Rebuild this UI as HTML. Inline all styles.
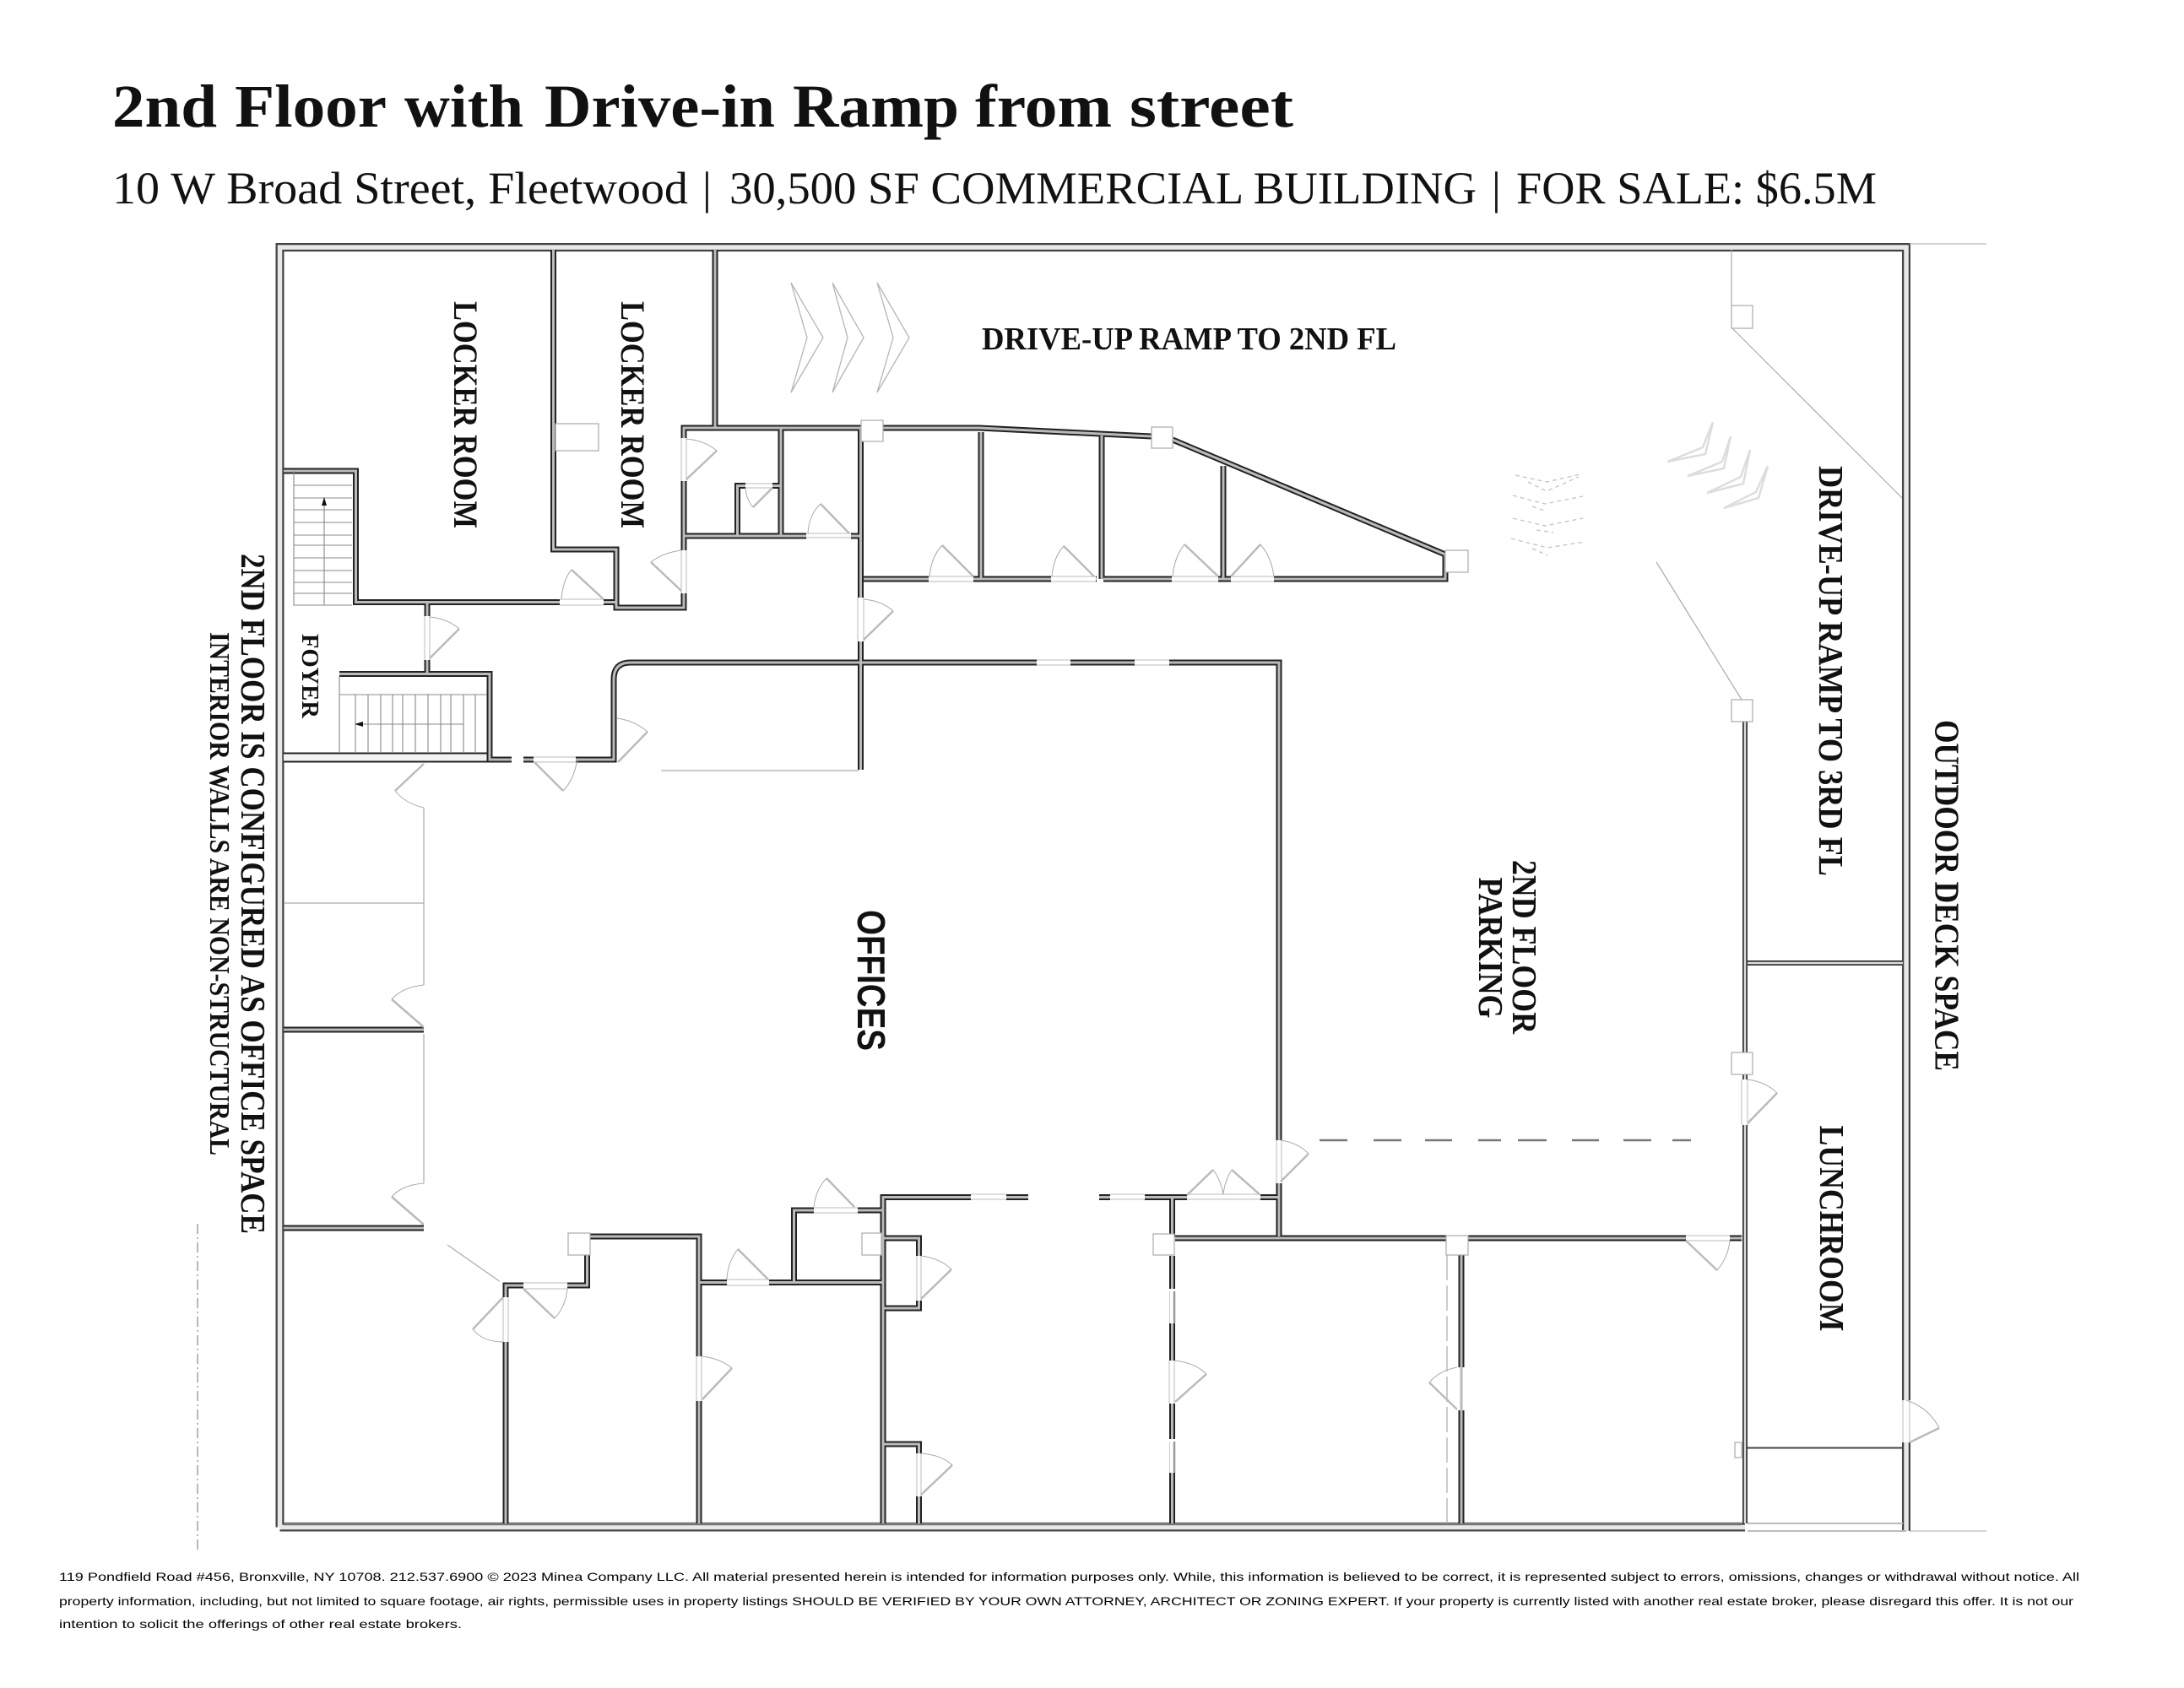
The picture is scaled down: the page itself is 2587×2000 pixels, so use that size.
<!DOCTYPE html>
<html><head><meta charset="utf-8"><style>
html,body{margin:0;padding:0;background:#fff}
svg{display:block}
text{font-family:"Liberation Serif",serif;fill:#111}
.b{font-weight:bold}
.f{font-family:"Liberation Sans",sans-serif;font-size:14px;fill:#000}
.leaf{fill:none;stroke:#bbb;stroke-width:2.5}
.arc{fill:none;stroke:#aaa;stroke-width:1}
.thin{fill:none;stroke:#aaa;stroke-width:1.2}
.col{fill:#fff;stroke:#aaa;stroke-width:1.2}
</style></head><body>
<svg xmlns="http://www.w3.org/2000/svg" width="2587" height="2000" viewBox="0 0 2587 2000">
<rect width="2587" height="2000" fill="#fff"/>
<defs>
<g id="outer" fill="none">
<path d="M331.5 1809.5V293H2258V1659M2258 1709V1814"/>
<path d="M331.5 1809.5H2067"/>
</g>
<g id="foyerwall" fill="none"><path d="M336 897.5H577"/></g>
<g id="walls" fill="none" stroke-linejoin="miter">
<path d="M336 558H421.5V713.5H663M715 713.5H730"/>
<path d="M655.5 296V651H730V720H810V703"/>
<path d="M847 296V507"/>
<path d="M810 519V507H1020M810 570V652"/>
<path d="M810 635H955M1008 635H1019"/>
<path d="M925 507V635M873.5 635V575.5H883M915 575.5H925"/>
<path d="M1019.5 507V708M1019.5 760V912"/>
<path d="M1023 686H1100M1153 686H1245M1298 686H1299M1307 686H1388M1443 686H1458M1509 686H1712V657"/>
<path d="M1162 512V686M1305 516V686M1449 552V686"/>
<path d="M1046 507H1160L1364 517"/>
<path d="M1389 521L1712 657"/>
<path d="M506 713V730M506 782V798"/>
<path d="M402 798.5H580V900H606M620 900H632M682 900H727V805Q727 785 747 785H1228M1268 785H1344M1385 785H1515V1351M1515 1402V1465"/>
<path d="M336 1220H502M336 1455H502"/>
<path d="M1493 1418.5H1515M1356 1418.5H1406M1302 1418.5H1315M1192 1418.5H1218M1150 1418.5H1046V1805"/>
<path d="M1388.5 1418V1465M1388.5 1488V1527M1388.5 1568V1612M1388.5 1663V1705M1388.5 1745V1805"/>
<path d="M1392 1467H1713M1738 1467H1997M2049 1467H2063"/>
<path d="M1731 1486V1620M1731 1671V1805"/>
<path d="M599 1805V1590M599 1537V1523H620M672 1523H695.5V1487M699 1465H828V1607M828 1660V1805"/>
<path d="M828 1519.5H861M911 1519.5H1046M940.5 1519V1434H964M1016 1434H1046"/>
<path d="M1046 1467H1088.5V1488M1088.5 1541V1550H1046"/>
<path d="M1046 1711H1088.5V1722M1088.5 1773V1805"/>
</g>
<g id="thinwalls" fill="none">
<path d="M2067 855V1247M2067 1273V1279M2067 1333V1805"/>
<path d="M2070 1141H2254"/>
</g>
</defs>

<!-- Title -->
<text class="b" x="133" y="150" font-size="72" textLength="124" lengthAdjust="spacingAndGlyphs">2nd</text>
<text class="b" x="278" y="150" font-size="72" textLength="180" lengthAdjust="spacingAndGlyphs">Floor</text>
<text class="b" x="479" y="150" font-size="72" textLength="141" lengthAdjust="spacingAndGlyphs">with</text>
<text class="b" x="645" y="150" font-size="72" textLength="273" lengthAdjust="spacingAndGlyphs">Drive-in</text>
<text class="b" x="939" y="150" font-size="72" textLength="197" lengthAdjust="spacingAndGlyphs">Ramp</text>
<text class="b" x="1155" y="150" font-size="72" textLength="162" lengthAdjust="spacingAndGlyphs">from</text>
<text class="b" x="1338" y="150" font-size="72" textLength="194" lengthAdjust="spacingAndGlyphs">street</text>
<text x="133" y="241" font-size="54" textLength="682" lengthAdjust="spacingAndGlyphs">10 W Broad Street, Fleetwood</text>
<text x="832" y="241" font-size="54">|</text>
<text x="864" y="241" font-size="54" textLength="885" lengthAdjust="spacingAndGlyphs">30,500 SF COMMERCIAL BUILDING</text>
<text x="1767" y="241" font-size="54">|</text>
<text x="1796" y="241" font-size="54" textLength="427" lengthAdjust="spacingAndGlyphs">FOR SALE: $6.5M</text>

<!-- walls -->
<use href="#outer" stroke="#444" stroke-width="10"/>
<use href="#outer" stroke="#e8e8e8" stroke-width="5.5"/>
<path d="M336 1805.5H2063" stroke="#777" stroke-width="3.5" fill="none"/>
<use href="#foyerwall" stroke="#222" stroke-width="12"/>
<use href="#foyerwall" stroke="#f2f2f2" stroke-width="8"/>
<use href="#walls" stroke="#222" stroke-width="7"/>
<use href="#walls" stroke="#bbb" stroke-width="3"/>
<use href="#thinwalls" stroke="#333" stroke-width="6"/>
<use href="#thinwalls" stroke="#ddd" stroke-width="2.5"/>

<!-- bottom right light wall + extensions -->
<path d="M2070 1805H2254M2070 1814H2258" stroke="#bbb" stroke-width="2" fill="none"/>
<path d="M2262 289H2353M2262 1814H2353" stroke="#bbb" stroke-width="1.2" fill="none"/>
<path d="M2070 1715.5H2254" stroke="#444" stroke-width="2"/>
<!-- light window sections in wall 1388 -->
<path d="M1391 1530V1568M1391 1708V1745" stroke="#999" stroke-width="2.5" fill="none"/>
<path d="M1385.5 1530V1568M1385.5 1708V1745" stroke="#ccc" stroke-width="1" fill="none"/>
<path d="M1731 1620V1671" stroke="#bbb" stroke-width="3" fill="none"/>

<!-- thin lines -->
<path class="thin" d="M2051 296V362M2052 389L2253 590M1962 666L2063 829M530 1475L591.5 1518M783 913H1017M502 957V1167M336 1070H502M502 1225V1402"/>
<path d="M1714 1487V1805" stroke="#aaa" stroke-width="1.2" stroke-dasharray="30 6" fill="none"/>
<path d="M234 1450V1839" stroke="#888" stroke-width="1.2" stroke-dasharray="12 4 2 4" fill="none"/>

<!-- gap lines -->
<path fill="none" stroke="#bbb" stroke-width="1" d="M503 730V782M509 730V782M663 710H715M663 717H715M807 652V703M813 652V703M807 519V570M813 519V570M883 573H915M883 578H915M955 632H1008M955 637H1008M1016 708V760M1023 708V760M1100 683H1153M1100 689H1153M1245 683H1298M1245 689H1298M1388 683H1443M1388 689H1443M1458 683H1509M1458 689H1509M1406 1415H1493M1406 1421H1493M1150 1415H1192M1150 1421H1192M1315 1415H1356M1315 1421H1356M1512 1351V1402M1518 1351V1402M2063 1279V1333M2070 1279V1333M2254 1659V1709M2262 1659V1709M1997 1464H2049M1997 1470H2049M1385 1612V1663M1391 1612V1663M596 1537V1590M602 1537V1590M620 1520H672M620 1527H672M825 1607V1660M831 1607V1660M861 1516H911M861 1523H911M964 1431H1016M964 1437H1016M1086 1488V1541M1091 1488V1541M1086 1722V1773M1091 1722V1773M632 897H682M632 903H682M1228 782H1268M1228 788H1268M1344 782H1385M1344 788H1385"/>

<!-- columns -->
<rect class="col" x="658" y="502" width="51" height="32"/>
<rect class="col" x="1020" y="498" width="26" height="25"/>
<rect class="col" x="1364" y="506" width="25" height="25"/>
<rect class="col" x="1712" y="652" width="27" height="26"/>
<rect class="col" x="2051" y="362" width="25" height="27"/>
<rect class="col" x="2051" y="829" width="25" height="26"/>
<rect class="col" x="2051" y="1247" width="25" height="26"/>
<rect class="col" x="1366" y="1462" width="25" height="25"/>
<rect class="col" x="1713" y="1464" width="26" height="23"/>
<rect class="col" x="673" y="1461" width="26" height="26"/>
<rect class="col" x="1021" y="1461" width="23" height="26"/>
<rect class="col" x="2055" y="1709" width="8" height="18"/>

<!-- door leaves -->
<path class="leaf" d="M509 780L544 745M715 710L677 675M807 700L771 666M813 568L849 534M915 578L892 601M1006 632L972 597M1023 758L1058 724M1153 683L1116 646M1296 683L1260 647M1443 683L1403 645M1458 683L1493 645M1517 1400L1550 1367M1406 1416L1437 1386M1493 1416L1459 1386M1997 1470L2034 1505M2262 1709L2297 1692M2070 1331L2105 1295M1726 1670L1693 1638M1392 1661L1429 1628M596 1537L560 1575M620 1527L657 1562M832 1658L867 1621M1012 1430L979 1396M910 1516L874 1480M1091 1539L1127 1504M1091 1771L1128 1736M732 903L767 867M633 903L667 937M502 905L468 937M502 1217L464 1184M502 1451L464 1418"/>
<!-- door arcs -->
<path class="arc" d="M544 745Q530 733 509 731M677 675Q667 686 665 710M771 666Q785 655 807 652M849 534Q835 522 813 520M892 601Q884 592 883 578M972 597Q958 610 957 632M1058 724Q1045 712 1023 710M1116 646Q1103 660 1101 683M1260 647Q1248 660 1246 683M1403 645Q1391 660 1389 683M1493 645Q1506 660 1509 683M1550 1367Q1538 1354 1517 1351M1437 1386Q1446 1398 1449 1415M1459 1386Q1451 1398 1449 1415M2034 1505Q2047 1490 2049 1470M2297 1692Q2285 1668 2258 1659M2105 1295Q2092 1282 2070 1279M1693 1638Q1705 1624 1726 1620M1429 1628Q1416 1615 1392 1612M560 1575Q572 1590 596 1590M657 1562Q670 1548 672 1527M867 1621Q854 1610 832 1607M979 1396Q966 1410 964 1430M874 1480Q862 1495 861 1516M1127 1504Q1114 1491 1091 1488M1128 1736Q1116 1724 1091 1722M767 867Q752 854 731 851M667 937Q680 924 684 899M468 937Q480 952 502 957M464 1184Q476 1170 502 1167M464 1418Q476 1404 502 1402"/>

<!-- stair 1 -->
<path fill="none" stroke="#888" stroke-width="1.1" d="M348 558V717H417M348 575H417M348 590H417M348 604H417M348 619H417M348 634H417M348 646H417M348 661H417M348 676H417M348 690H417M348 703H417M384 595V717"/>
<path d="M384 589L381 599H387Z" fill="#111"/>
<!-- stair 2 -->
<path fill="none" stroke="#888" stroke-width="1.1" d="M402 802V892M402 823H577M421 823V892M436 823V892M451 823V892M465 823V892M477 823V892M492 823V892M507 823V892M522 823V892M534 823V892M549 823V892M563 823V892M425 858H549"/>
<path d="M420 858L430 855V861Z" fill="#111"/>

<!-- dashed parking line -->
<path fill="none" stroke="#777" stroke-width="2.5" d="M1563 1351H1596M1627 1351H1660M1688 1351H1720M1751 1351H1778M1798 1351H1832M1862 1351H1894M1923 1351H1956M1981 1351H2003"/>

<!-- chevrons top -->
<path fill="none" stroke="#b5b5b5" stroke-width="1.3" d="M937 335L956 400L937 465L975 400ZM986 335L1004 400L986 465L1023 400ZM1039 335L1058 400L1039 465L1077 400Z"/>
<!-- dotted chevrons -->
<path fill="none" stroke="#c4c4c4" stroke-width="1.3" stroke-dasharray="5 4" d="M1795 563L1832 571L1872 562M1810 571L1832 582L1870 565M1792 587L1830 597L1875 588M1815 600L1832 606M1792 614L1830 623L1875 614M1820 628L1840 631M1790 638L1833 649L1877 642M1815 650L1833 658"/>
<!-- angled chevrons -->
<path fill="none" stroke="#ddd" stroke-width="2.5" d="M1975 547L2017 530L2029 500M1975 547L2020 538L2029 500M1999 564L2040 547L2050 517M1999 564L2042 555L2050 517M2022 584L2062 565L2073 533M2022 584L2065 573L2073 533M2042 602L2080 583L2094 552M2042 602L2083 590L2094 552"/>

<!-- Labels -->
<text class="b" font-size="40" transform="translate(538,357) rotate(90)" textLength="269" lengthAdjust="spacingAndGlyphs">LOCKER ROOM</text>
<text class="b" font-size="40" transform="translate(736,357) rotate(90)" textLength="269" lengthAdjust="spacingAndGlyphs">LOCKER ROOM</text>
<text class="b" font-size="38" x="1163" y="414" textLength="491" lengthAdjust="spacingAndGlyphs">DRIVE-UP RAMP TO 2ND FL</text>
<text class="b" font-size="29" transform="translate(358,751) rotate(90)" textLength="100" lengthAdjust="spacingAndGlyphs">FOYER</text>
<text class="b" font-size="41" transform="translate(286,656) rotate(90)" textLength="806" lengthAdjust="spacingAndGlyphs">2ND FLOOR IS CONFIGURED AS OFFICE SPACE</text>
<text font-weight="bold" font-size="34" transform="translate(249,749) rotate(90)" textLength="620" lengthAdjust="spacingAndGlyphs">INTERIOR WALLS ARE NON-STRUCTURAL</text>
<text class="b" font-size="46" style="font-family:'Liberation Sans',sans-serif" transform="translate(1016,1078) rotate(90)" textLength="167" lengthAdjust="spacingAndGlyphs">OFFICES</text>
<text class="b" font-size="41" transform="translate(2155,552) rotate(90)" textLength="486" lengthAdjust="spacingAndGlyphs">DRIVE-UP RAMP TO 3RD FL</text>
<text class="b" font-size="41" transform="translate(2292.5,853) rotate(90)" textLength="416" lengthAdjust="spacingAndGlyphs">OUTDOOR DECK SPACE</text>
<text class="b" font-size="41" transform="translate(1792,1019) rotate(90)" textLength="206" lengthAdjust="spacingAndGlyphs">2ND FLOOR</text>
<text class="b" font-size="41" transform="translate(1752,1039.5) rotate(90)" textLength="167" lengthAdjust="spacingAndGlyphs">PARKING</text>
<text class="b" font-size="41" transform="translate(2156,1333.5) rotate(90)" textLength="244" lengthAdjust="spacingAndGlyphs">LUNCHROOM</text>

<!-- Footer -->
<text class="f" x="70" y="1873" textLength="2393" lengthAdjust="spacingAndGlyphs">119 Pondfield Road #456, Bronxville, NY 10708. 212.537.6900 © 2023 Minea Company LLC. All material presented herein is intended for information purposes only. While, this information is believed to be correct, it is represented subject to errors, omissions, changes or withdrawal without notice. All</text>
<text class="f" x="70" y="1902" textLength="2386" lengthAdjust="spacingAndGlyphs">property information, including, but not limited to square footage, air rights, permissible uses in property listings SHOULD BE VERIFIED BY YOUR OWN ATTORNEY, ARCHITECT OR ZONING EXPERT. If your property is currently listed with another real estate broker, please disregard this offer. It is not our</text>
<text class="f" x="70" y="1929" textLength="477" lengthAdjust="spacingAndGlyphs">intention to solicit the offerings of other real estate brokers.</text>
</svg>
</body></html>
